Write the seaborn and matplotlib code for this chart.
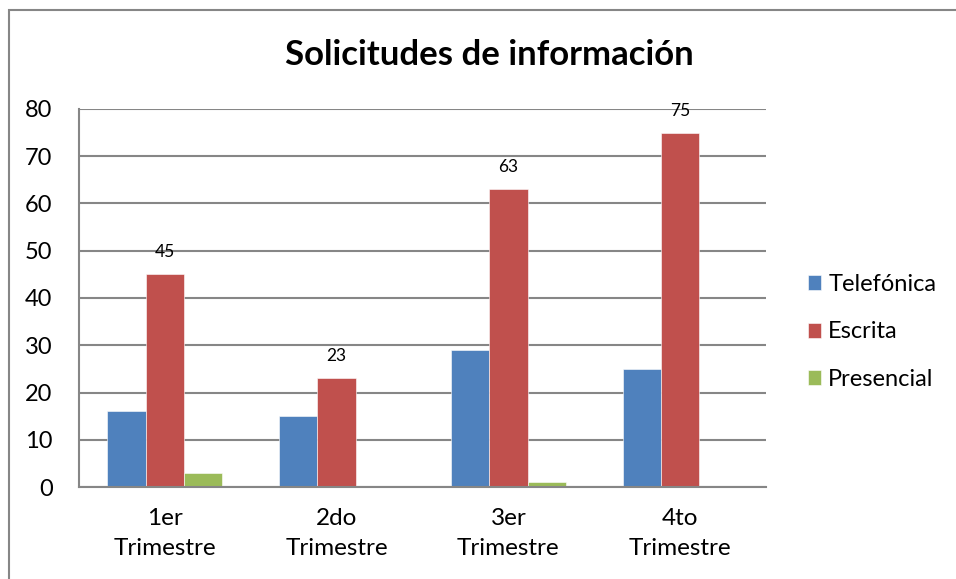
import pandas as pd
import matplotlib.pyplot as plt
import seaborn as sns
from matplotlib.patches import Rectangle

categories = ['1er\nTrimestre', '2do\nTrimestre', '3er\nTrimestre', '4to\nTrimestre']
telefonica = [16, 15, 29, 25]
escrita = [45, 23, 63, 75]
presencial = [3, 0, 1, 0]
series_names = ['Telefónica', 'Escrita', 'Presencial']
colors = ['#4F81BD', '#C0504D', '#9BBB59']

data = pd.DataFrame({
    'trimestre': categories * 3,
    'tipo': [s for s in series_names for _ in categories],
    'valor': telefonica + escrita + presencial,
})

sns.set_theme(style="white")
plt.rcParams['font.family'] = ['Lato', 'DejaVu Sans']
plt.rcParams['text.color'] = 'black'

fig = plt.figure(figsize=(9.56, 5.79), dpi=100)
ax = fig.add_axes([79 / 956, 1 - 487 / 579, (766 - 79) / 956, (487 - 109) / 579])

sns.barplot(
    data=data,
    x='trimestre',
    y='valor',
    hue='tipo',
    hue_order=series_names,
    palette=colors,
    width=0.67,
    saturation=1,
    ax=ax,
    edgecolor='white',
    linewidth=0.4,
)

ax.set_ylim(0, 80)
ax.set_yticks(range(0, 81, 10))
ax.yaxis.grid(True, color='#868686', linewidth=1.5)
ax.set_axisbelow(True)
ax.set_xlabel('')
ax.set_ylabel('')
ax.tick_params(axis='y', labelsize=17, pad=19, length=0, colors='black')
ax.tick_params(axis='x', labelsize=17.5, pad=15, length=0, colors='black')
for t in ax.get_xticklabels():
    t.set_linespacing(1.55)

for side in ['top', 'right']:
    ax.spines[side].set_visible(False)
for side in ['left', 'bottom']:
    ax.spines[side].set_color('#868686')
    ax.spines[side].set_linewidth(1.5)

# data labels only on the Escrita series
ax.bar_label(ax.containers[1], labels=[str(v) for v in escrita], padding=10,
             fontsize=12.5, color='black')

fig.suptitle('Solicitudes de información', x=489 / 956, y=1 - 55 / 579,
             va='center', fontsize=25, fontweight='bold', color='black')

handles, labels = ax.get_legend_handles_labels()
ax.legend(handles, labels, loc='center left', bbox_to_anchor=(0.8225, 1 - 332 / 579),
          bbox_transform=fig.transFigure, frameon=False, fontsize=17,
          handlelength=0.58, handleheight=0.58, handletextpad=0.3, labelspacing=1.12)

fig.patches.append(Rectangle((9 / 956, -0.1), 1.2, 1 - 10 / 579 + 0.1,
                             transform=fig.transFigure, fill=False,
                             edgecolor='#868686', linewidth=1.5))

fig.savefig('out.png', dpi=100)
